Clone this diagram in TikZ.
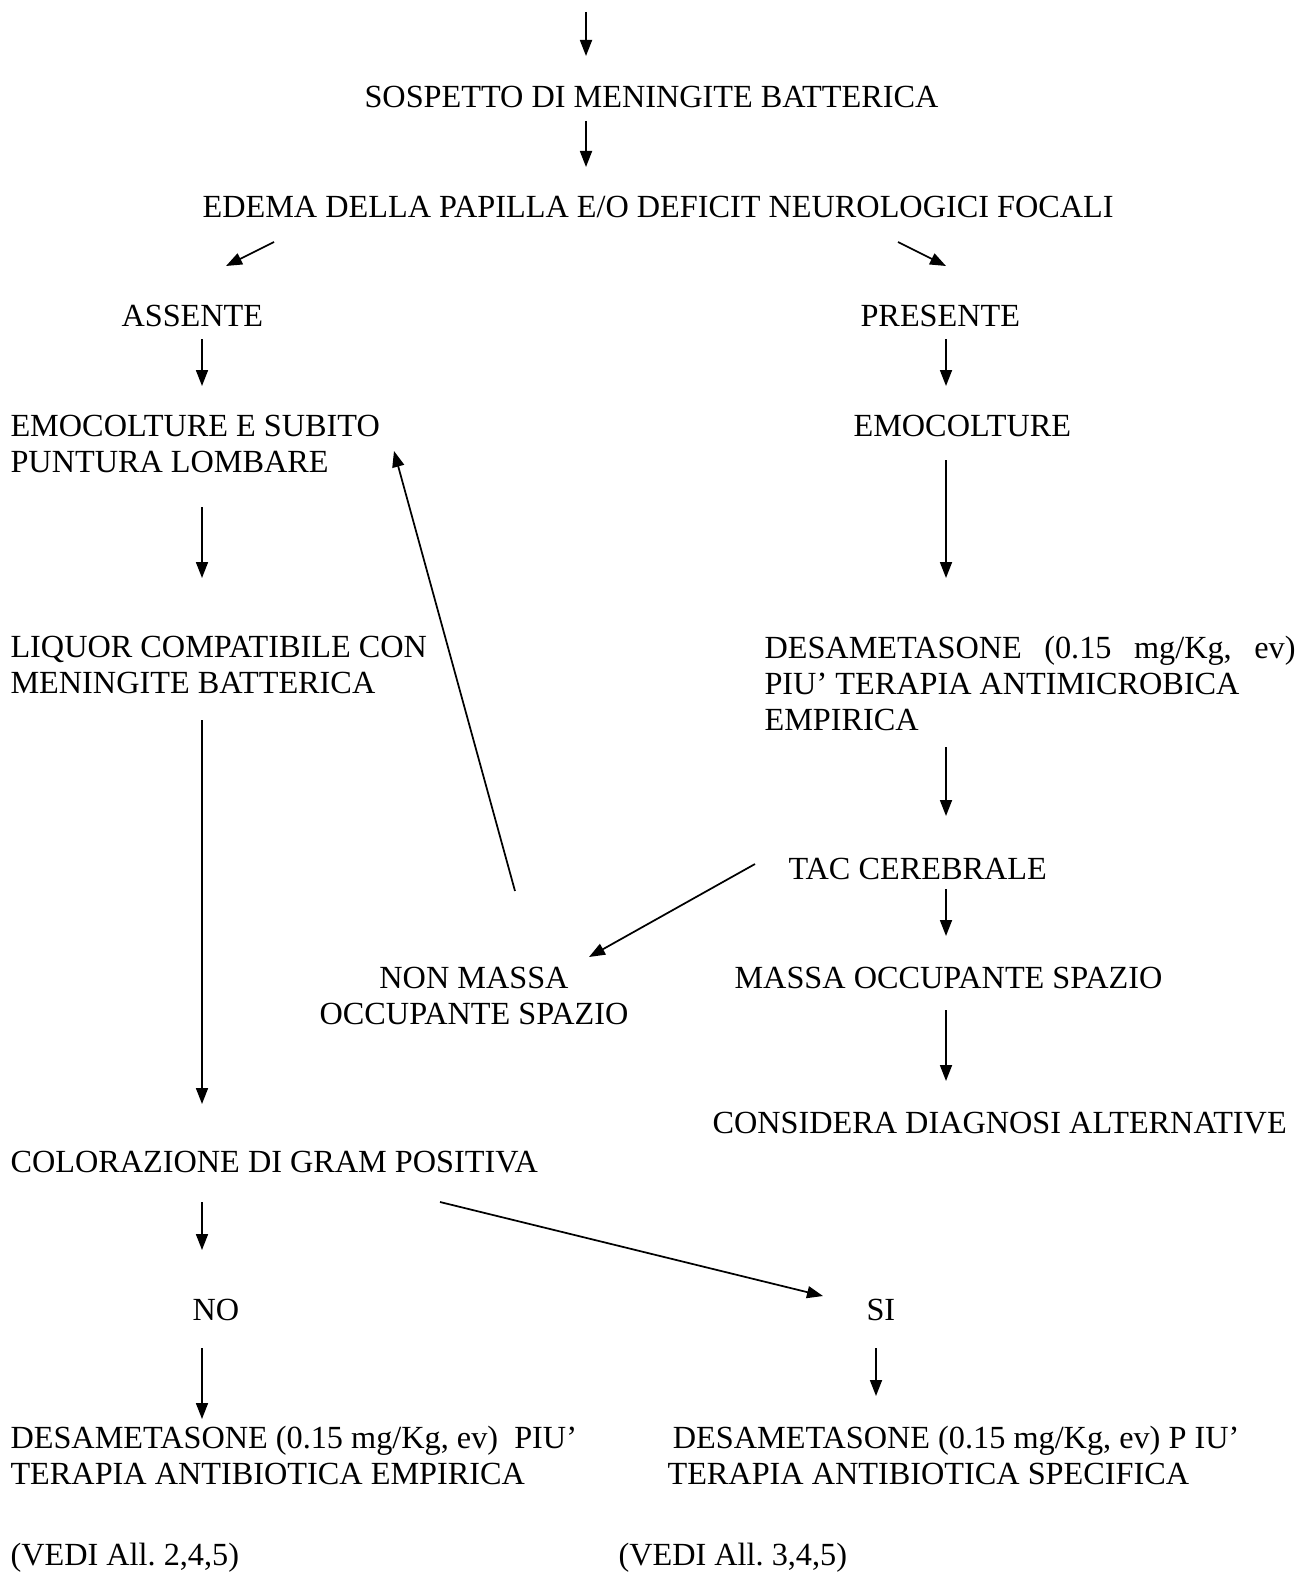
\documentclass[tikz,border=0pt]{standalone}
\usepackage{fontspec}
\setmainfont{Liberation Serif}
\usetikzlibrary{arrows.meta}
\newdimen\pxu \pxu=0.375pt

\begin{document}
\begin{tikzpicture}[x=0.375pt,y=-0.375pt,
    txt/.style={inner sep=0pt,anchor=base west,align=left,font=\fontsize{12.1}{13.5}\selectfont\frenchspacing},
    arr/.style={-{Triangle[length=6pt,width=4.5pt]},line width=0.65pt}]
    \useasboundingbox (0,0) rectangle (1308,1584);
    \coordinate (topc) at (586,12);
    \node[txt] (sosp) at (364,107.5) {SOSPETTO DI MENINGITE BATTERICA};
    \node[txt] (edema) at (202,217.5) {EDEMA DELLA PAPILLA E/O DEFICIT NEUROLOGICI FOCALI};
    \node[txt] (assente) at (121,326.5) {ASSENTE};
    \node[txt] (presente) at (860,326.5) {PRESENTE};
    \node[txt] (emocl) at (10,472.5) {EMOCOLTURE E SUBITO\\PUNTURA LOMBARE};
    \node[txt] (emocr) at (853,436.5) {EMOCOLTURE};
    \node[txt] (liquor) at (10,693.5) {LIQUOR COMPATIBILE CON\\MENINGITE BATTERICA};
    \node[txt] (desar) at (764,730.5)
        {\hbox to 531\pxu{DESAMETASONE\hfill(0.15\hfill mg/Kg,\hfill ev)}\\PIU' TERAPIA ANTIMICROBICA\\EMPIRICA};
    \node[txt] (tac) at (788,879.5) {TAC CEREBRALE};
    \node[txt,anchor=base,align=center] (nonmassa) at (474,1024.5) {NON MASSA\\OCCUPANTE SPAZIO};
    \node[txt] (massa) at (734,988.5) {MASSA OCCUPANTE SPAZIO};
    \node[txt] (considera) at (712,1133.5) {CONSIDERA DIAGNOSI ALTERNATIVE};
    \node[txt] (gram) at (10,1172.5) {COLORAZIONE DI GRAM POSITIVA};
    \node[txt] (no) at (192,1320.5) {NO};
    \node[txt] (si) at (866,1320.5) {SI};
    \node[txt] (desal) at (10,1484.5) {DESAMETASONE (0.15 mg/Kg, ev)\ \ PIU'\\TERAPIA ANTIBIOTICA EMPIRICA};
    \node[txt] (desas) at (667,1484.5) {\hspace*{2pt}DESAMETASONE (0.15 mg/Kg, ev) P IU'\\TERAPIA ANTIBIOTICA SPECIFICA};
    \node[txt] (vedil) at (10,1565.5) {(VEDI All. 2,4,5)};
    \node[txt] (vedir) at (618,1565.5) {(VEDI All. 3,4,5)};

    % frecce
    \draw[arr] (topc) -- ([shift={(222,-51.5)}]sosp.base west);
    \draw[arr] ([shift={(222,13.5)}]sosp.base west) -- ([shift={(384,-50.5)}]edema.base west);
    \draw[arr] ([shift={(72,24.5)}]edema.base west) -- ([shift={(105,-60.5)}]assente.base west);
    \draw[arr] ([shift={(696,24.5)}]edema.base west) -- ([shift={(86,-60.5)}]presente.base west);
    \draw[arr] ([shift={(81,12.5)}]assente.base west) -- ([shift={(192,-86.5)}]emocl.base west);
    \draw[arr] ([shift={(86,12.5)}]presente.base west) -- ([shift={(93,-50.5)}]emocr.base west);
    \draw[arr] ([shift={(192,34.5)}]emocl.base west) -- ([shift={(192,-115.5)}]liquor.base west);
    \draw[arr] ([shift={(93,23.5)}]emocr.base west) -- ([shift={(182,-152.5)}]desar.base west);
    \draw[arr] ([shift={(192,26.5)}]liquor.base west) -- ([shift={(192,-68.5)}]gram.base west);
    \draw[arr] ([shift={(182,16.5)}]desar.base west) -- ([shift={(158,-63.5)}]tac.base west);
    \draw[arr] ([shift={(-33,-15.5)}]tac.base west) -- ([shift={(115,-67.5)}]nonmassa.base);
    \draw[arr] ([shift={(41,-133.5)}]nonmassa.base) -- ([shift={(384,-21.5)}]emocl.base west);
    \draw[arr] ([shift={(158,9.5)}]tac.base west) -- ([shift={(212,-52.5)}]massa.base west);
    \draw[arr] ([shift={(212,21.5)}]massa.base west) -- ([shift={(234,-52.5)}]considera.base west);
    \draw[arr] ([shift={(192,29.5)}]gram.base west) -- ([shift={(10,-70.5)}]no.base west);
    \draw[arr] ([shift={(430,29.5)}]gram.base west) -- ([shift={(-43,-24.5)}]si.base west);
    \draw[arr] ([shift={(10,27.5)}]no.base west) -- ([shift={(192,-65.5)}]desal.base west);
    \draw[arr] ([shift={(10,27.5)}]si.base west) -- ([shift={(209,-88.5)}]desas.base west);
\end{tikzpicture}
\end{document}
